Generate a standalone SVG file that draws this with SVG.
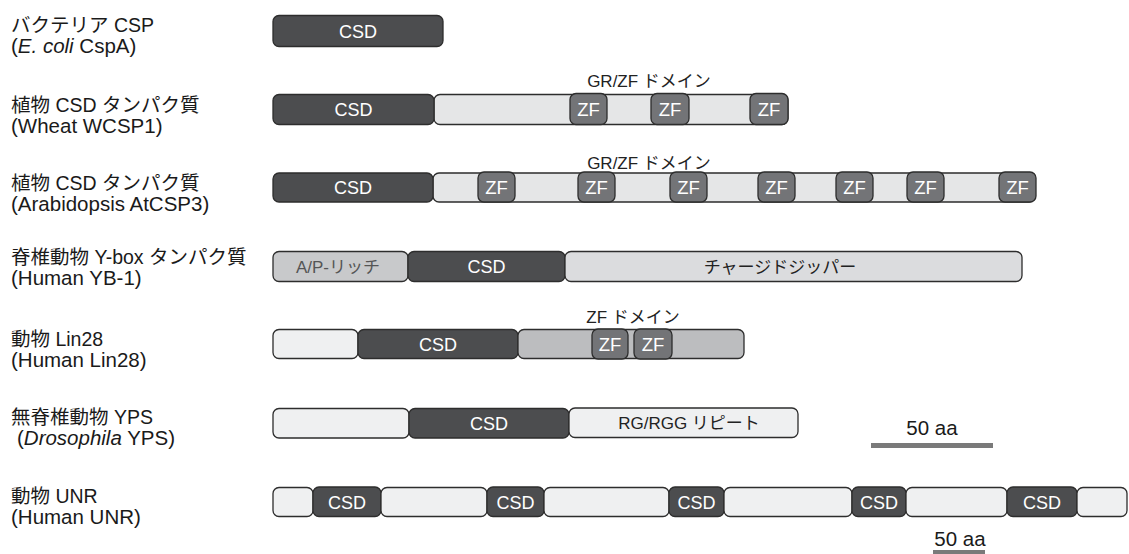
<svg xmlns="http://www.w3.org/2000/svg" width="1129" height="554" viewBox="0 0 1129 554">
<style>
text{font-family:"Liberation Sans","Noto Sans CJK JP",sans-serif;}
.lab{font-size:19.5px;fill:#1a1a1a;}
.lab2{font-size:20.5px;fill:#1a1a1a;}
.box{stroke:#2d2d2d;stroke-width:1.3;}
.csd{fill:#4c4d4f;}
.zf{fill:#737477;}
.lt{fill:#eff0f1;}
.lg{fill:#e5e6e7;}
.cz{fill:#dbdcde;}
.ap{fill:#c8c9cb;}
.zd{fill:#bcbdbf;}
.wt{fill:#ffffff;font-size:18px;text-anchor:middle;}
.wz{fill:#ffffff;font-size:18.5px;text-anchor:middle;}
.dk{fill:#222;font-size:17px;text-anchor:middle;}
.gy{fill:#555;font-size:17px;text-anchor:middle;}
.sc{font-size:20.5px;fill:#1a1a1a;text-anchor:middle;}
.bar{fill:#7a7a7a;}
</style>

<g id="row1">
<text class="lab" x="11" y="32">バクテリア CSP</text>
<text class="lab2" x="11" y="53">(<tspan font-style="italic">E. coli</tspan> CspA)</text>
<rect class="box csd" x="273" y="15.5" width="170" height="31" rx="6"/>
<text class="wt" x="358" y="37.5">CSD</text>
</g>

<g id="row2">
<text class="lab" x="11" y="112">植物 CSD タンパク質</text>
<text class="lab2" x="11" y="133">(Wheat WCSP1)</text>
<text class="dk" x="649" y="87">GR/ZF ドメイン</text>
<rect class="box lg" x="434" y="94.5" width="354" height="30" rx="6"/>
<rect class="box csd" x="273" y="94.5" width="161" height="30" rx="6"/>
<text class="wt" x="353.5" y="116">CSD</text>
<rect class="box zf" x="570" y="93.5" width="37" height="31" rx="6"/>
<text class="wz" x="588.5" y="116">ZF</text>
<rect class="box zf" x="651" y="93.5" width="38" height="31" rx="6"/>
<text class="wz" x="670" y="116">ZF</text>
<rect class="box zf" x="750" y="93.5" width="38" height="31" rx="6"/>
<text class="wz" x="769" y="116">ZF</text>
</g>

<g id="row3">
<text class="lab" x="11" y="190">植物 CSD タンパク質</text>
<text class="lab2" x="11" y="211">(Arabidopsis AtCSP3)</text>
<text class="dk" x="649" y="169">GR/ZF ドメイン</text>
<rect class="box lg" x="433" y="173" width="602" height="29" rx="6"/>
<rect class="box csd" x="273" y="173" width="160" height="29" rx="6"/>
<text class="wt" x="353" y="194">CSD</text>
<rect class="box zf" x="478" y="172" width="37" height="30" rx="6"/>
<text class="wz" x="496.5" y="194">ZF</text>
<rect class="box zf" x="578" y="172" width="37" height="30" rx="6"/>
<text class="wz" x="596.5" y="194">ZF</text>
<rect class="box zf" x="670" y="172" width="37" height="30" rx="6"/>
<text class="wz" x="688.5" y="194">ZF</text>
<rect class="box zf" x="758" y="172" width="37" height="30" rx="6"/>
<text class="wz" x="776.5" y="194">ZF</text>
<rect class="box zf" x="836" y="172" width="37" height="30" rx="6"/>
<text class="wz" x="854.5" y="194">ZF</text>
<rect class="box zf" x="907" y="172" width="37" height="30" rx="6"/>
<text class="wz" x="925.5" y="194">ZF</text>
<rect class="box zf" x="999" y="172" width="37" height="30" rx="6"/>
<text class="wz" x="1017.5" y="194">ZF</text>
</g>

<g id="row4">
<text class="lab" x="11" y="264">脊椎動物 Y-box タンパク質</text>
<text class="lab2" x="11" y="285">(Human YB-1)</text>
<rect class="box ap" x="273" y="251.5" width="135" height="30" rx="6"/>
<text class="gy" x="338" y="272.5">A/P-リッチ</text>
<rect class="box csd" x="408" y="251.5" width="157" height="30" rx="6"/>
<text class="wt" x="486.5" y="273">CSD</text>
<rect class="box cz" x="565" y="251.5" width="457" height="30" rx="6"/>
<text class="dk" x="780" y="272.5">チャージドジッパー</text>
</g>

<g id="row5">
<text class="lab" x="11" y="346">動物 Lin28</text>
<text class="lab2" x="11" y="367">(Human Lin28)</text>
<text class="dk" x="633" y="323">ZF ドメイン</text>
<rect class="box lt" x="273" y="329.5" width="85" height="29" rx="6"/>
<rect class="box csd" x="358" y="329.5" width="160" height="29" rx="6"/>
<text class="wt" x="438" y="350.5">CSD</text>
<rect class="box zd" x="518" y="329.5" width="226" height="29" rx="6"/>
<rect class="box zf" x="592" y="329" width="36" height="30" rx="6"/>
<text class="wz" x="610" y="351">ZF</text>
<rect class="box zf" x="634" y="329" width="38" height="30" rx="6"/>
<text class="wz" x="653" y="351">ZF</text>
</g>

<g id="row6">
<text class="lab" x="11" y="424">無脊椎動物 YPS</text>
<text class="lab2" x="17" y="445">(<tspan font-style="italic">Drosophila</tspan> YPS)</text>
<rect class="box lt" x="273" y="408.5" width="136" height="29.5" rx="6"/>
<rect class="box csd" x="409" y="408.5" width="160" height="29.5" rx="6"/>
<text class="wt" x="489" y="430">CSD</text>
<rect class="box lt" x="569" y="408" width="229" height="29.5" rx="6"/>
<text class="dk" x="689" y="429">RG/RGG リピート</text>
</g>

<g id="row7">
<text class="lab" x="11" y="503">動物 UNR</text>
<text class="lab2" x="11" y="524">(Human UNR)</text>
<rect class="box lt" x="273" y="487.5" width="40" height="29" rx="6"/>
<rect class="box csd" x="313" y="487" width="68" height="29.5" rx="6"/>
<text class="wt" x="347" y="508.5">CSD</text>
<rect class="box lt" x="381" y="487.5" width="106" height="29" rx="6"/>
<rect class="box csd" x="487" y="487" width="57" height="29.5" rx="6"/>
<text class="wt" x="515.5" y="508.5">CSD</text>
<rect class="box lt" x="544" y="487.5" width="125" height="29" rx="6"/>
<rect class="box csd" x="669" y="487" width="55" height="29.5" rx="6"/>
<text class="wt" x="696.5" y="508.5">CSD</text>
<rect class="box lt" x="724" y="487.5" width="128" height="29" rx="6"/>
<rect class="box csd" x="852" y="487" width="54" height="29.5" rx="6"/>
<text class="wt" x="879" y="508.5">CSD</text>
<rect class="box lt" x="906" y="487.5" width="101" height="29" rx="6"/>
<rect class="box csd" x="1007" y="487" width="70" height="29.5" rx="6"/>
<text class="wt" x="1042" y="508.5">CSD</text>
<rect class="box lt" x="1077" y="487.5" width="50" height="29" rx="6"/>
</g>

<g id="scale-bars">
<text class="sc" x="932" y="435">50 aa</text>
<rect class="bar" x="871" y="443" width="122" height="5"/>
<text class="sc" x="960" y="546">50 aa</text>
<rect class="bar" x="933" y="550" width="52" height="5"/>
</g>
</svg>
